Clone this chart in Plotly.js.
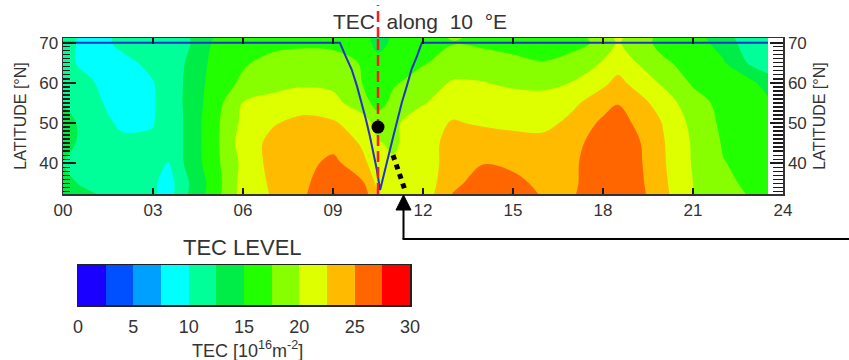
<!DOCTYPE html>
<html><head><meta charset="utf-8">
<script src="https://cdn.plot.ly/plotly-3.0.1.min.js"></script>
<style>html,body{margin:0;padding:0;background:#fff}#chart{width:849px;height:360px}</style>
</head><body><div id="chart"></div>
<script>
// ---- data ----
const hours = [0,1,2,3,3.5,4,5,6,7,8,9,10,10.5,11,12,13,14,15,16,17,18,18.5,19,20,21,22,23,23.5];
const latitudes = [32,35,40,45,50,55,60,65,70,72];
const tec_lat32 = [14.0,12.8,11.3,10.4,8.9,11.8,16.2,21.0,22.7,24.6,27.7,26.2,22.8,21.0,21.0,25.2,27.2,27.7,24.6,24.8,27.0,27.2,26.4,23.2,20.0,18.6,17.2,16.8];
const tec_lat35 = [13.3,11.6,11.2,10.5,8.8,11.6,16.0,21.0,22.9,24.5,26.6,25.3,21.8,21.0,21.0,24.3,26.3,25.8,24.3,24.6,26.8,27.0,26.2,23.0,20.0,18.0,17.0,16.6];
const tec_lat40 = [12.4,11.4,11.0,10.8,9.9,12.4,16.5,20.6,23.4,24.0,25.8,22.9,21.5,20.3,21.2,23.6,24.9,24.4,24.3,24.6,26.6,26.8,26.0,22.8,19.8,17.6,16.8,16.4];
const tec_lat45 = [13.3,11.4,10.6,10.3,10.8,12.45,16.6,21.2,23.2,24.0,24.0,22.2,20.2,19.6,21.5,23.3,23.8,23.6,23.5,24.3,26.2,26.6,25.8,22.7,19.7,17.3,16.6,16.2];
const tec_lat50 = [13.6,11.1,9.5,9.9,11.0,12.45,16.6,20.6,22.3,23.2,22.8,21.2,19.0,19.5,21.5,22.7,22.2,21.8,21.6,23.3,25.5,26.0,24.9,22.4,19.3,17.0,16.4,16.0];
const tec_lat55 = [12.4,10.5,9.0,9.8,11.0,12.55,16.2,20.1,21.0,21.4,20.8,18.5,16.5,18.2,19.8,21.5,21.8,21.3,21.0,22.0,24.0,24.9,23.8,21.4,18.5,16.8,16.0,15.6];
const tec_lat60 = [10.9,10.1,8.8,9.9,11.0,12.5,15.9,18.0,19.0,19.6,19.4,17.4,16.5,17.2,18.6,20.3,20.1,19.5,19.4,20.1,22.0,23.2,22.0,19.6,17.2,16.2,15.4,13.8];
const tec_lat65 = [10.6,9.2,9.4,10.6,11.3,12.3,15.6,17.2,18.3,18.8,18.5,17.3,15.8,16.5,17.3,18.4,18.8,18.0,17.6,18.6,20.2,21.5,20.3,17.8,16.8,15.3,11.8,11.0];
const tec_lat70 = [10.8,9.0,10.6,11.2,11.4,11.6,15.2,16.3,16.8,17.0,16.9,16.0,14.2,15.4,16.5,17.4,17.0,16.8,16.5,16.6,18.2,20.4,18.6,16.9,16.2,14.0,10.8,10.5];
const tec_lat72 = [10.8,9.2,10.4,11.2,11.5,12.0,14.8,16.3,16.8,17.0,17.0,16.0,14.0,15.4,16.8,17.8,17.2,16.8,16.5,16.8,18.6,21.0,19.0,16.9,16.0,13.5,10.6,10.5];
const tecRows = [tec_lat32,tec_lat35,tec_lat40,tec_lat45,tec_lat50,tec_lat55,tec_lat60,tec_lat65,tec_lat70,tec_lat72];

const levelCenters = [1.25,3.75,6.25,8.75,11.25,13.75,16.25,18.75,21.25,23.75,26.25,28.75];
const levelColors = ['#1a00ff','#0050ff','#00a0ff','#00ffff','#00ff99','#00ec46','#22ff00','#88ff00','#ddff00','#ffbb00','#ff6600','#ff0000'];
const cbTickVals = [0,5,10,15,20,25,30];
const xTickVals = [0,3,6,9,12,15,18,21,24];
const xTickText = ['00','03','06','09','12','15','18','21','24'];

const pathHours = [0,9.23,9.42,9.62,9.8,9.96,10.1,10.23,10.35,10.46,10.57,10.73,10.87,11.01,11.15,11.29,11.46,11.62,11.8,11.96,23.5];
const pathLat   = [70,70,66.7,63.4,59.2,55,50.8,46.7,42.5,38.4,33.3,38.4,42.5,46.7,50.8,55,59.2,63.4,66.7,70,70];
const dotHour = [10.5], dotLat = [49];
const dottedHours = [11.0, 11.42], dottedLat = [42.0, 32.8];
const sliceHour = 10.5;

// ---- build ----
const W = 849, H = 360;
const px = v => v / W, py = v => 1 - v / H;
const FONT = 'Liberation Sans, Arial, sans-serif';
const TXT = '#333';
const TICK = '#1a1a1a';
const LAT_RANGE = [32.3, 71.2];
const NB2 = '\u00a0\u00a0';

// contour colorscale: band j fill = colorMap(level + size/2) -> stop (j+1)/13
const contourScale = [];
const cs14 = [levelColors[0]].concat(levelColors).concat([levelColors[11]]);
cs14.forEach((c, k) => contourScale.push([k / 13, c]));
// step colorscale for the legend bar
const stepScale = [];
levelColors.forEach((c, j) => { stepScale.push([j / 12, c]); stepScale.push([(j + 1) / 12, c]); });

const redDash = {color: '#ff1a1a', width: 2.5, dash: '11px,5px'};

const traces = [
  {type: 'contour', x: hours, y: latitudes, z: tecRows, autocontour: false,
   contours: {start: 0, end: 30, size: 2.5, coloring: 'fill', showlines: false},
   line: {width: 0}, colorscale: contourScale, showscale: false, hoverinfo: 'skip'},
  {type: 'scatter', mode: 'lines', x: pathHours, y: pathLat, xaxis: 'x', yaxis: 'y3',
   line: {color: '#2233cc', width: 2}, hoverinfo: 'skip'},
  {type: 'scatter', mode: 'lines', x: [sliceHour, sliceHour], y: LAT_RANGE, xaxis: 'x', yaxis: 'y4',
   line: redDash, hoverinfo: 'skip'},
  {type: 'scatter', mode: 'lines', x: dottedHours, y: dottedLat, xaxis: 'x', yaxis: 'y4',
   line: {color: '#000', width: 5, dash: 'dot'}, hoverinfo: 'skip'},
  {type: 'scatter', mode: 'markers', x: dotHour, y: dotLat, xaxis: 'x', yaxis: 'y5',
   marker: {color: '#000', size: 13}, hoverinfo: 'skip'},
  {type: 'heatmap', x: levelCenters, y: [0.5], z: [levelCenters], xaxis: 'x2', yaxis: 'y2',
   colorscale: stepScale, zmin: 0, zmax: 30, showscale: false, hoverinfo: 'skip'}
];

const yCommon = {
  range: LAT_RANGE, tickmode: 'linear', tick0: 0, dtick: 10,
  ticks: 'inside', ticklen: 13, tickwidth: 1.5, tickcolor: TICK, layer: 'above traces',
  showline: true, linecolor: TXT, linewidth: 1.5, showgrid: false, zeroline: false,
  tickfont: {family: FONT, size: 17, color: TXT},
  title: {text: 'LATITUDE [°N]', font: {family: FONT, size: 16, color: TXT}, standoff: 8}
};
const yMinor = {
  range: LAT_RANGE, overlaying: 'y', anchor: 'x', tickmode: 'linear', tick0: 0, dtick: 1,
  ticks: 'inside', tickwidth: 1.2, tickcolor: TICK, showticklabels: false, layer: 'above traces',
  showline: false, showgrid: false, zeroline: false
};

const layout = {
  width: W, height: H, margin: {l: 0, r: 0, t: 0, b: 0, pad: 0},
  paper_bgcolor: '#fff', plot_bgcolor: 'rgba(0,0,0,0)', showlegend: false,
  title: {text: 'TEC' + NB2 + 'along' + NB2 + '10' + NB2 + '°E', x: px(420), xanchor: 'center', xref: 'paper',
          y: py(22), yanchor: 'middle', yref: 'paper', font: {family: FONT, size: 21, color: TXT}},
  xaxis: {domain: [px(63), px(783)], anchor: 'y', range: [0, 24], tickvals: xTickVals, ticktext: xTickText,
          ticks: 'inside', ticklen: 6, tickwidth: 1.5, tickcolor: TICK, layer: 'above traces',
          showline: true, linecolor: TXT, linewidth: 1.5,
          mirror: 'ticks', showgrid: false, zeroline: false, tickfont: {family: FONT, size: 17, color: TXT}},
  yaxis: Object.assign({}, yCommon, {domain: [py(194), py(38)], anchor: 'x', side: 'left'}),
  yaxis3: Object.assign({}, yCommon, {overlaying: 'y', anchor: 'x', side: 'right'}),
  yaxis4: Object.assign({}, yMinor, {side: 'left', ticklen: 7}),
  yaxis5: Object.assign({}, yMinor, {side: 'right', ticklen: 10}),
  xaxis2: {domain: [px(78), px(410)], anchor: 'y2', range: [0, 30], tickvals: cbTickVals,
           ticks: 'outside', ticklen: 5, tickcolor: 'rgba(0,0,0,0)', showline: true, mirror: true,
           linecolor: '#222', linewidth: 1.5, showgrid: false, zeroline: false,
           tickfont: {family: FONT, size: 18, color: TXT}},
  yaxis2: {domain: [py(305), py(265)], anchor: 'x2', range: [0, 1], showticklabels: false, ticks: '',
           showline: true, mirror: true, linecolor: '#222', linewidth: 1.5, showgrid: false, zeroline: false},
  shapes: [
    {type: 'line', xref: 'x', yref: 'paper', x0: sliceHour, x1: sliceHour, y0: py(38), y1: py(5),
     line: redDash, layer: 'above'},
    {type: 'line', xref: 'paper', yref: 'paper', x0: px(403.5), x1: px(403.5), y0: py(207), y1: py(239),
     line: {color: '#000', width: 2}},
    {type: 'line', xref: 'paper', yref: 'paper', x0: px(402.5), x1: px(849), y0: py(239), y1: py(239),
     line: {color: '#000', width: 2}},
    {type: 'path', xref: 'paper', yref: 'paper',
     path: `M ${px(396)} ${py(210)} L ${px(411)} ${py(210)} L ${px(403.5)} ${py(195)} Z`,
     fillcolor: '#000', line: {color: '#000', width: 1}}
  ],
  annotations: [
    {text: 'TEC LEVEL', xref: 'paper', yref: 'paper', x: px(243), y: py(247), xanchor: 'center', yanchor: 'middle',
     showarrow: false, font: {family: FONT, size: 22, color: TXT}},
    {text: 'TEC [10<sup>16</sup>m<sup>-2</sup>]', xref: 'paper', yref: 'paper', x: px(247), y: py(349),
     xanchor: 'center', yanchor: 'middle', showarrow: false, font: {family: FONT, size: 18, color: TXT}}
  ]
};

Plotly.newPlot('chart', traces, layout, {displayModeBar: false, staticPlot: true});
</script></body></html>
